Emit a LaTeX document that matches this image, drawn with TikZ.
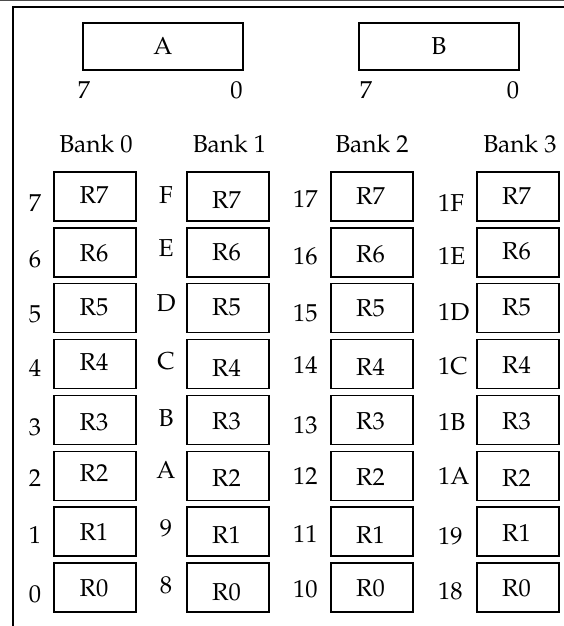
\documentclass[tikz,border=0pt]{standalone}
\usepackage[T1]{fontenc}
\usepackage{mathpazo}
\begin{document}
\begin{tikzpicture}[x=1pt,y=-1pt,
  font=\fontsize{24.5}{28}\selectfont,
  frameline/.style={line width=2pt, line cap=rect},
  accu/.style={draw, line width=1.6pt, minimum width=160pt, minimum height=47pt,
               inner sep=0pt, anchor=north west},
  reg/.style={draw, line width=1.6pt, minimum width=82pt, minimum height=49pt,
              inner sep=0pt, anchor=north west},
  txt/.style={inner sep=0pt}]
\useasboundingbox (0,0) rectangle (564,626);

% page rules
\draw[gray!60!black, line width=1.2pt] (0,0.6) -- (564,0.6);
\coordinate (fc) at (12.7,7.3);
\coordinate (fr) at (564,7.3);
\coordinate (fb) at (12.7,626);
\draw[frameline] (fr) -- (fc) -- (fb);

% accumulator registers
\node[accu] (A) at (82,22) {A};
\node[accu] (B) at (358,22) {B};
\node[txt] (A7) at (84,90.5) {7};
\node[txt] (A0) at (236.5,90.5) {0};
\node[txt] (B7) at (366,90.5) {7};
\node[txt] (B0) at (513,90.5) {0};

% bank headings
\node[txt] (h0) at (96,144) {Bank 0};
\node[txt] (h1) at (229.5,144) {Bank 1};
\node[txt] (h2) at (372,144) {Bank 2};
\node[txt] (h3) at (520,144) {Bank 3};

% bank 0
\foreach \r/\ty/\ay in {7/195/203.5, 6/253/259, 5/307/314, 4/362/368,
                        3/422/427, 2/473/478, 1/532/535, 0/588/594} {
  \pgfmathsetmacro\top{171+55.9*(7-\r)}
  \node[reg] (r0\r) at (53,\top) {};
  \node[txt] (t0\r) at (94,\ty) {R\r};
  \node[txt] (a0\r) at (35,\ay) {\r};
}
% bank 1
\foreach \r/\ty/\ad/\ay in {7/200/F/195, 6/252/E/248, 5/307/D/303, 4/368/C/361,
                            3/421/B/418, 2/478/A/470, 1/535/9/528, 0/592/8/585} {
  \pgfmathsetmacro\top{171+55.9*(7-\r)}
  \node[reg] (r1\r) at (186,\top) {};
  \node[txt] (t1\r) at (226.5,\ty) {R\r};
  \node[txt] (a1\r) at (166,\ay) {\ad};
}
% bank 2
\foreach \r/\ty/\ad/\ay in {7/196/17/199, 6/254/16/256, 5/308/15/313, 4/367/14/365,
                            3/421/13/425, 2/477/12/476, 1/535/11/534, 0/588/10/589} {
  \pgfmathsetmacro\top{171+55.9*(7-\r)}
  \node[reg] (r2\r) at (330,\top) {};
  \node[txt] (t2\r) at (370.5,\ty) {R\r};
  \node[txt, anchor=west] (a2\r) at (293,\ay) {\ad};
}
% bank 3
\foreach \r/\ty/\ad/\ay in {7/196/1F/203, 6/251/1E/256, 5/307/1D/312, 4/365/1C/366,
                            3/421/1B/422, 2/478/1A/476, 1/533/19/536, 0/588/18/591} {
  \pgfmathsetmacro\top{171+55.9*(7-\r)}
  \node[reg] (r3\r) at (476,\top) {};
  \node[txt] (t3\r) at (516.5,\ty) {R\r};
  \node[txt, anchor=west] (a3\r) at (438,\ay) {\ad};
}
\end{tikzpicture}
\end{document}
